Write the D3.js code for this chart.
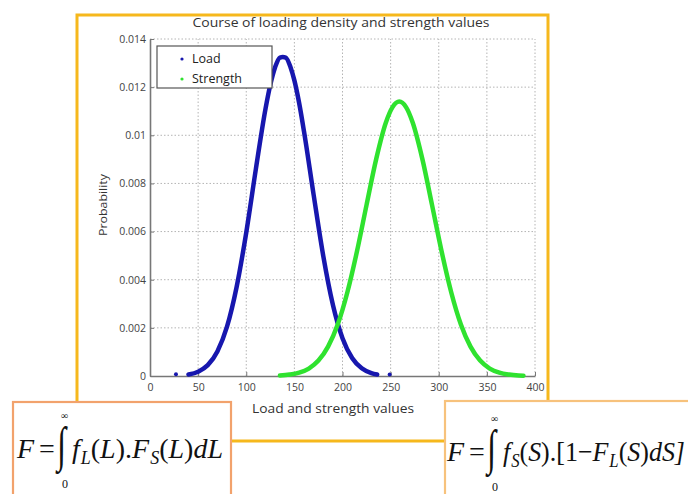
<!DOCTYPE html>
<html>
<head>
<meta charset="utf-8">
<script src="https://cdn.jsdelivr.net/npm/d3@7"></script>
<style>
  body { margin: 0; background: #fff; }
  svg { display: block; }
</style>
</head>
<body>
<svg id="chart" width="688" height="494"></svg>
<script>
// Load density (blue)
var loadX = [40, 50, 60, 70, 80, 90, 100, 110, 120, 125, 130, 135, 138, 141, 146, 150, 155, 160, 170, 180, 190, 200, 210, 220, 230, 236];
var loadY = [0.00006, 0.00018, 0.00045, 0.00102, 0.00205, 0.0037, 0.00596, 0.0086, 0.0111, 0.0121, 0.01283, 0.01323, 0.01325, 0.01323, 0.01283, 0.01228, 0.01133, 0.01016, 0.00753, 0.00499, 0.00296, 0.00157, 0.00075, 0.00032, 0.00012, 0.00006];
// stray load samples sitting on the axis
var loadTailX = [27, 249];
var loadTailY = [0.00003, 0.00002];

// Strength density (green)
var strengthX = [135, 145, 155, 165, 175, 185, 195, 205, 215, 225, 235, 245, 252, 259, 266, 273, 283, 293, 303, 313, 323, 333, 343, 353, 363, 373, 383, 388];
var strengthY = [0.00002, 0.00006, 0.00014, 0.00031, 0.00064, 0.00122, 0.00214, 0.00347, 0.00517, 0.00711, 0.00901, 0.01052, 0.01117, 0.0114, 0.01117, 0.01052, 0.00901, 0.00711, 0.00517, 0.00347, 0.00214, 0.00122, 0.00064, 0.00031, 0.00014, 0.00006, 0.00002, 0.00001];

var xTicks = [0, 50, 100, 150, 200, 250, 300, 350, 400];
var yTicks = [0, 0.002, 0.004, 0.006, 0.008, 0.01, 0.012, 0.014];
var legendLabels = ["Load", "Strength"];
var seriesColors = ["#1717ae", "#2fe22f"];

var svg = d3.select("#chart");
var font = "'Open Sans', 'Liberation Sans', sans-serif";
var serif = "'Liberation Serif', 'Times New Roman', serif";

var x = d3.scaleLinear().domain([0, 400]).range([150, 535]);
var y = d3.scaleLinear().domain([0, 0.014]).range([376, 39]);

// yellow frame round the chart, running down into the formula boxes
svg.append("path")
    .attr("d", "M77,402V15H548V401")
    .attr("fill", "none")
    .attr("stroke", "#f6b81c")
    .attr("stroke-width", 3);

// dotted grid
svg.append("g").selectAll("line")
    .data(xTicks.slice(1))
    .enter().append("line")
    .attr("x1", function(d) { return x(d); })
    .attr("x2", function(d) { return x(d); })
    .attr("y1", y(0))
    .attr("y2", y(0.014))
    .attr("stroke", "#b4b4b4")
    .attr("stroke-dasharray", "1.5,2");

svg.append("g").selectAll("line")
    .data(yTicks.slice(1))
    .enter().append("line")
    .attr("x1", x(0))
    .attr("x2", x(400))
    .attr("y1", function(d) { return y(d); })
    .attr("y2", function(d) { return y(d); })
    .attr("stroke", "#b4b4b4")
    .attr("stroke-dasharray", "1.5,2");

// axes
var xAxis = svg.append("g")
    .attr("transform", "translate(0," + y(0) + ")")
    .call(d3.axisBottom(x).tickValues(xTicks).tickSizeInner(-4).tickSizeOuter(0).tickPadding(8));

var yAxis = svg.append("g")
    .attr("transform", "translate(" + x(0) + ",0)")
    .call(d3.axisLeft(y).tickValues(yTicks).tickSizeInner(-4).tickSizeOuter(0).tickPadding(4)
        .tickFormat(function(d) { return String(+d.toFixed(3)); }));

[xAxis, yAxis].forEach(function(a) {
    a.select(".domain").attr("stroke", "#777").attr("stroke-width", 1.6);
    a.selectAll(".tick line").attr("stroke", "#777");
    a.selectAll(".tick text").attr("fill", "#444").style("font-family", font).style("font-size", "10.5px");
});

// curves
var line = d3.line()
    .x(function(d) { return x(d[0]); })
    .y(function(d) { return y(d[1]); })
    .curve(d3.curveMonotoneX);

svg.append("path")
    .attr("d", line(d3.zip(loadX, loadY)))
    .attr("fill", "none")
    .attr("stroke", seriesColors[0])
    .attr("stroke-width", 4.5)
    .attr("stroke-linecap", "round");

svg.append("path")
    .attr("d", line(d3.zip(strengthX, strengthY)))
    .attr("fill", "none")
    .attr("stroke", seriesColors[1])
    .attr("stroke-width", 4.5)
    .attr("stroke-linecap", "round");

svg.append("g").selectAll("circle")
    .data(d3.zip(loadTailX, loadTailY))
    .enter().append("circle")
    .attr("cx", function(d) { return x(d[0]); })
    .attr("cy", function(d) { return y(d[1]) - 1; })
    .attr("r", 2)
    .attr("fill", seriesColors[0]);

// title and axis labels
svg.append("text")
    .attr("x", 341).attr("y", 27)
    .attr("text-anchor", "middle")
    .attr("textLength", 297).attr("lengthAdjust", "spacingAndGlyphs")
    .style("font-family", font).style("font-size", "13px").attr("fill", "#333")
    .text("Course of loading density and strength values");

svg.append("text")
    .attr("x", 333).attr("y", 413)
    .attr("text-anchor", "middle")
    .attr("textLength", 162).attr("lengthAdjust", "spacingAndGlyphs")
    .style("font-family", font).style("font-size", "12px").attr("fill", "#333")
    .text("Load and strength values");

svg.append("text")
    .attr("transform", "translate(107,205) rotate(-90)")
    .attr("text-anchor", "middle")
    .attr("textLength", 62).attr("lengthAdjust", "spacingAndGlyphs")
    .style("font-family", font).style("font-size", "11.5px").attr("fill", "#333")
    .text("Probability");

// legend
var legend = svg.append("g");
legend.append("rect")
    .attr("x", 157).attr("y", 46).attr("width", 115).attr("height", 42)
    .attr("fill", "#fff").attr("stroke", "#555").attr("stroke-width", 1.2);
legendLabels.forEach(function(label, i) {
    legend.append("circle")
        .attr("cx", 182).attr("cy", 59 + i * 20).attr("r", 1.6)
        .attr("fill", seriesColors[i]);
    legend.append("text")
        .attr("x", 192).attr("y", 63 + i * 20)
        .style("font-family", font).style("font-size", "12.5px").attr("fill", "#222")
        .text(label);
});

// formula boxes
svg.append("rect")
    .attr("x", 13).attr("y", 402).attr("width", 218).attr("height", 110)
    .attr("fill", "none").attr("stroke", "#f2a26c").attr("stroke-width", 2.2);
svg.append("rect")
    .attr("x", 445).attr("y", 401).attr("width", 260).attr("height", 110)
    .attr("fill", "none").attr("stroke", "#f7c27c").attr("stroke-width", 2.2);
svg.append("line")
    .attr("x1", 232).attr("x2", 444).attr("y1", 441).attr("y2", 441)
    .attr("stroke", "#f6b81c").attr("stroke-width", 3);

function formula(g, x0, base, parts, bodyX, bodyLen) {
    g.append("text").attr("x", x0).attr("y", base)
        .style("font-family", serif).style("font-size", "28px").attr("fill", "#111")
        .html("<tspan font-style='italic'>F</tspan><tspan dx='5'>=</tspan>");
    g.append("text")
        .attr("transform", "translate(" + (x0 + 40) + "," + (base + 3) + ") scale(0.9,1.36)")
        .style("font-family", serif).style("font-size", "36px").attr("fill", "#111")
        .text("\u222B");
    g.append("text").attr("x", x0 + 44).attr("y", base - 39)
        .style("font-family", serif).style("font-size", "10px").attr("fill", "#111")
        .text("\u221E");
    g.append("text").attr("x", x0 + 45).attr("y", base + 30)
        .style("font-family", serif).style("font-size", "12px").attr("fill", "#111")
        .text("0");
    var t = g.append("text").attr("x", bodyX).attr("y", base)
        .attr("textLength", bodyLen).attr("lengthAdjust", "spacingAndGlyphs")
        .style("font-family", serif).style("font-size", "28px").attr("fill", "#111");
    parts.forEach(function(p) {
        var s = t.append("tspan").text(p[0]);
        if (p[1] === "i") s.attr("font-style", "italic");
        if (p[1] === "sub") s.attr("font-style", "italic").attr("font-size", "18px").attr("dy", 6).attr("dx", 1);
        if (p[2]) s.attr("dy", p[2]);
    });
}

formula(svg.append("g"), 17, 458,
    [["f", "i"], ["L", "sub"], ["(", "n", -6], ["L", "i"], [").", "n"], ["F", "i"], ["S", "sub"], ["(", "n", -6], ["L", "i"], [")", "n"], ["dL", "i"]],
    72, 151);

formula(svg.append("g"), 447, 461,
    [["f", "i"], ["S", "sub"], ["(", "n", -6], ["S", "i"], [").[1\u2212", "n"], ["F", "i"], ["L", "sub"], ["(", "n", -6], ["S", "i"], [")", "n"], ["dS]", "i"]],
    503, 182);
</script>
</body>
</html>
